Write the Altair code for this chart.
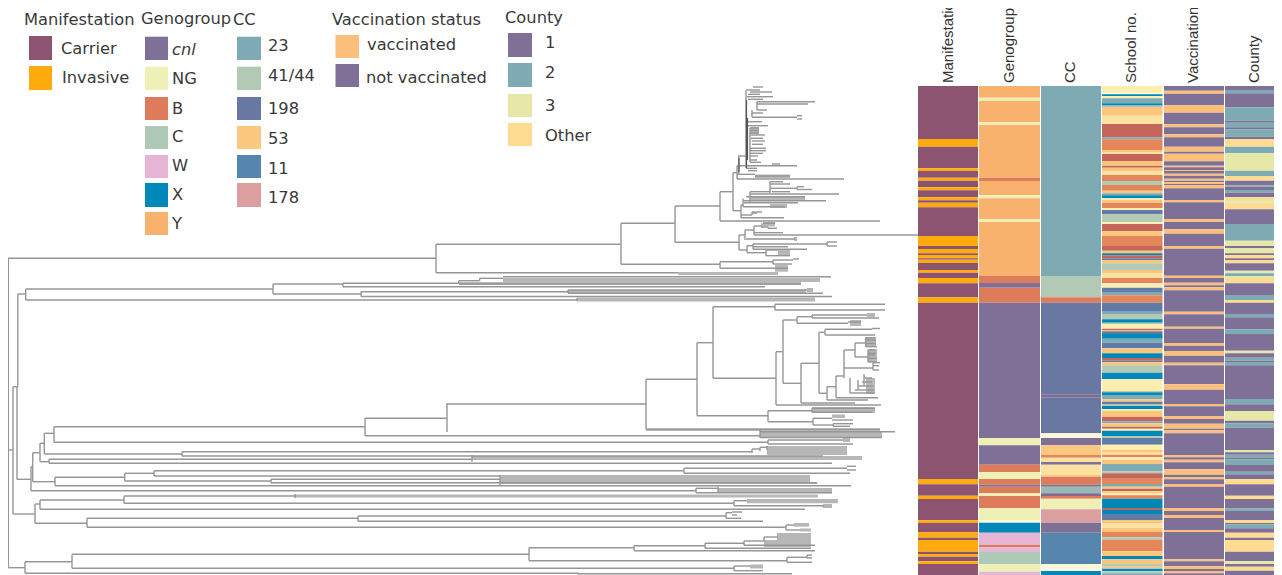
import altair as alt
import pandas as pd

# ---------- palette ----------
PAL = {"carrier": "#8c5470", "invasive": "#ffab0d", "cnl": "#7f7097", "NG": "#eef0b5", "B": "#dd7b5a",
       "C": "#aec9b5", "W": "#e6b5d6", "X": "#0089b8", "Y": "#f9b26e", "23": "#7eaab3", "41": "#b2cab5",
       "198": "#6878a3", "53": "#fcc77f", "11": "#5686ae", "178": "#dc9f9f", "v": "#fbbf7b", "n": "#7f7097",
       "c1": "#7f7097", "c2": "#7eaab3", "c3": "#e6e8a8", "cO": "#fddc92",
       "a": "#fdeeb0", "w": "#fdf8dc", "b": "#0089b8", "t": "#7eaab3", "o": "#fbc67c", "y": "#fce2a0",
       "r": "#c4675a", "e": "#e5855a", "s": "#5f7ba6", "g": "#b2cab5", "m": "#83688f", "p": "#9ab8b4"}

# ---------- heatmap columns ----------
COLUMNS = ["Manifestation", "Genogroup", "CC", "School no.", "Vaccination", "County"]
COL_LEFT = [918, 979, 1041, 1102, 1164, 1225]
COL_RIGHT = [978, 1040, 1101, 1162.5, 1224, 1274]
LABEL_X = [948, 1009, 1070, 1131, 1193, 1254]
HEAT_TOP = 86

manifestation = [(139, "carrier"), (146.7, "invasive"), (168.3, "carrier"), (171, "invasive"), (177.7, "carrier"),
    (180.7, "invasive"), (187.3, "carrier"), (190.3, "invasive"), (197.3, "carrier"), (200.3, "invasive"),
    (202.7, "carrier"), (207.3, "invasive"), (236, "carrier"), (246, "invasive"), (249, "carrier"),
    (253.3, "invasive"), (255, "carrier"), (258.3, "invasive"), (259.7, "carrier"), (263, "invasive"),
    (270, "carrier"), (272.7, "invasive"), (278, "carrier"), (283.3, "invasive"), (297.3, "carrier"),
    (302.7, "invasive"), (479, "carrier"), (484.3, "invasive"), (495.7, "carrier"), (499, "invasive"),
    (520.3, "carrier"), (523, "invasive"), (532.3, "carrier"), (537.7, "invasive"), (540, "carrier"),
    (551.7, "invasive"), (554, "carrier"), (556.7, "invasive"), (561.3, "carrier"), (564, "invasive"),
    (575, "carrier")]

genogroup = [(97.7, "Y"), (100.7, "NG"), (122.3, "Y"), (125, "NG"), (177.7, "Y"), (181, "B"), (195.3, "Y"),
    (198.3, "NG"), (219.3, "Y"), (222, "NG"), (276, "Y"), (283, "B"), (287.7, "cnl"), (302.7, "B"), (438, "cnl"),
    (445.3, "NG"), (464.7, "cnl"), (472, "B"), (479, "NG"), (484.7, "B"), (486.7, "cnl"), (493.3, "B"),
    (496, "NG"), (508, "B"), (520.3, "NG"), (522.7, "w"), (532.7, "X"), (544.7, "W"), (547.3, "B"), (552, "W"),
    (564, "C"), (571.7, "NG"), (575, "W")]

cc = [(276, "23"), (297.3, "41"), (302.7, "B"), (394.3, "198"), (397.3, "m"), (433.3, "198"), (438, "w"),
    (445.3, "cnl"), (455, "53"), (457.7, "e"), (462, "y"), (464.7, "cnl"), (475, "y"), (476.7, "53"), (484.7, "B"),
    (486.7, "cnl"), (493.3, "p"), (496, "m"), (498.7, "B"), (509.3, "NG"), (522.7, "178"), (532.7, "cnl"),
    (564, "11"), (571, "w"), (575, "X")]

school = [(92.7, "a"), (94.3, "w"), (96, "b"), (98.3, "a"), (103.3, "t"), (105.3, "b"), (106.7, "t"), (115.7, "o"),
    (124, "y"), (137.3, "r"), (139.3, "t"), (150, "e"), (152, "o"), (154, "y"), (161, "r"), (165.7, "o"),
    (167.7, "r"), (171, "o"), (175, "y"), (181, "e"), (185, "g"), (190.7, "e"), (193.3, "o"), (195.3, "t"),
    (198.3, "b"), (200, "a"), (202.7, "o"), (208.3, "e"), (210, "a"), (214.3, "s"), (222.3, "g"), (224, "a"),
    (231.3, "r"), (236, "o"), (246, "e"), (250.7, "r"), (253.3, "o"), (255.3, "b"), (258.3, "r"), (260, "s"),
    (263.3, "o"), (270, "g"), (273.3, "o"), (278, "y"), (283.3, "e"), (287.7, "a"), (292.7, "s"), (295.3, "t"),
    (302.7, "e"), (311.7, "s"), (314, "t"), (319.3, "g"), (322.7, "b"), (324.3, "g"), (328.7, "a"), (330, "r"),
    (331.3, "o"), (334, "s"), (338.7, "b"), (342.7, "t"), (348.3, "s"), (353.3, "o"), (358, "b"), (360.7, "r"),
    (362.3, "s"), (365.3, "o"), (372.7, "g"), (379.3, "b"), (391, "a"), (392.3, "g"), (395, "b"), (399.3, "t"),
    (401.7, "o"), (404, "s"), (406, "g"), (409.3, "b"), (410.7, "a"), (416.7, "o"), (421.3, "r"), (423.3, "t"),
    (426.7, "o"), (428.7, "r"), (430.7, "a"), (436, "b"), (438, "g"), (444.7, "s"), (450, "a"), (452.7, "o"),
    (454.7, "y"), (457.3, "e"), (460, "a"), (464, "o"), (471.3, "t"), (473.3, "g"), (478.7, "r"), (484, "e"),
    (486.7, "t"), (488.7, "o"), (491.3, "r"), (493.3, "o"), (495.3, "a"), (498.7, "e"), (508, "b"), (510, "r"),
    (514, "b"), (520, "s"), (523.3, "o"), (528, "y"), (532, "o"), (537.3, "e"), (540, "g"), (551.3, "e"),
    (556, "o"), (559.3, "b"), (564, "o"), (566.7, "g"), (568.7, "o"), (571.3, "b"), (573.3, "g"), (575, "t")]

vaccination = [(90.7, "n"), (93.7, "v"), (105.3, "n"), (112.7, "v"), (124.3, "n"), (127.3, "v"), (134.3, "n"),
    (137.3, "v"), (146.7, "n"), (151.7, "v"), (153.7, "n"), (161.3, "v"), (165.7, "n"), (167.3, "v"), (170, "n"),
    (171, "v"), (173.7, "n"), (175.7, "v"), (178.7, "n"), (180.7, "v"), (182.3, "n"), (184, "v"), (185, "n"),
    (188.3, "v"), (200, "n"), (202.3, "v"), (219.3, "n"), (222, "v"), (229.3, "n"), (233.7, "v"), (246, "n"),
    (248.7, "v"), (275.7, "n"), (278, "v"), (282.7, "n"), (285.3, "v"), (287.3, "n"), (290.3, "v"), (311.7, "n"),
    (314.3, "v"), (326.7, "n"), (328.7, "v"), (343, "n"), (345.7, "v"), (351, "n"), (355.7, "v"), (362.7, "n"),
    (365.3, "v"), (384.3, "n"), (389.7, "v"), (404, "n"), (406.3, "v"), (416, "n"), (419, "v"), (423.7, "n"),
    (428.7, "v"), (430.3, "n"), (433.3, "v"), (455, "n"), (457.3, "v"), (459.7, "n"), (462.3, "v"), (469.3, "n"),
    (474.7, "v"), (477, "n"), (479.3, "v"), (484, "n"), (486.7, "v"), (508, "n"), (511, "v"), (515, "n"),
    (518, "v"), (530, "n"), (532, "v"), (559.3, "n"), (561.3, "v"), (566.3, "n"), (569, "v"), (571, "n"),
    (573.3, "v"), (575, "n")]

county = [(90, "c1"), (93.3, "c2"), (107.3, "c1"), (120.7, "c2"), (122.7, "c1"), (127.3, "c2"), (129.3, "c1"),
    (136.7, "c2"), (139.3, "c1"), (146.7, "cO"), (153.3, "c2"), (170.7, "c3"), (176, "c2"), (180.7, "cO"),
    (185.3, "c1"), (186.7, "c2"), (190, "c1"), (192.7, "c2"), (197.3, "c1"), (200, "cO"), (202.7, "c3"),
    (209.3, "cO"), (224, "c1"), (240.7, "c2"), (246, "c3"), (248.3, "c1"), (253.3, "c3"), (255, "c1"),
    (258.3, "cO"), (260, "c1"), (263.3, "cO"), (270.7, "c1"), (273.3, "c3"), (276, "c2"), (278, "c3"),
    (283.3, "cO"), (295, "c1"), (300, "c2"), (302.7, "cO"), (314, "c1"), (317.3, "c2"), (329.3, "c1"),
    (334, "c2"), (350.7, "c1"), (353.3, "c3"), (357.7, "c1"), (360.7, "c2"), (362, "c1"), (365.3, "c2"),
    (399, "c1"), (404.3, "c2"), (411, "c1"), (420.7, "c3"), (423.3, "c1"), (427.7, "c2"), (450, "c1"),
    (452.3, "c3"), (454.7, "c1"), (457.7, "c2"), (459.3, "c1"), (465, "c2"), (471.7, "c1"), (474.3, "c2"),
    (479, "c1"), (484.3, "cO"), (495.7, "c1"), (499, "cO"), (508.3, "c1"), (510.7, "c2"), (520, "c1"),
    (523, "cO"), (524.3, "c1"), (528.3, "c2"), (532.7, "c1"), (537.7, "cO"), (540, "c1"), (551.7, "cO"),
    (561.3, "c1"), (564, "c3"), (566.7, "c1"), (570.7, "cO"), (575, "c1")]

COLUMN_RUNS = [manifestation, genogroup, cc, school, vaccination, county]

# ---------- tree: (x0, x1, y) horizontal branches ----------
h_branches = [
    (8, 436, 258.3), (436, 621, 244.3), (621, 675, 223.3), (675, 720, 206), (720, 880, 221), (720, 733, 191.7),
    (733, 737, 172.7), (737, 797, 165.7), (738, 746, 156), (737, 755, 174.3), (737, 844, 179), (755, 790, 176),
    (753, 763, 87), (746, 760, 90), (750, 772, 92), (748, 760, 94.3), (747, 773, 96.7), (748, 763, 99.3),
    (757, 815, 101.7), (757, 808, 104), (757, 767, 110), (752, 763, 113), (752, 797, 117.3), (797, 802, 115.7),
    (797, 802, 119), (747, 762, 121.7), (747, 768, 125.7), (750, 759, 128), (750, 759, 130.5), (750, 759, 133),
    (750, 765, 135), (751, 763, 138.3), (752, 765, 141), (752, 763, 144.3), (750, 766, 148.3), (750, 766, 150.7),
    (750, 763, 153.3), (750, 758, 156), (750, 757, 160), (750, 761, 162.3), (772, 780, 164), (746, 757, 168.3),
    (748, 757, 170.7),
    (733, 741, 210.7), (741, 743, 205), (743, 785, 206.7), (743, 826, 200.7), (744, 798, 202.7), (746, 805, 196.7),
    (750, 839, 194), (750, 770, 191.7), (770, 797, 188.3), (797, 804, 186.7), (797, 812, 189.5), (772, 790, 191.7),
    (770, 790, 184), (770, 783, 181.7), (741, 752, 215), (752, 757, 213), (752, 762, 212), (741, 784, 217.7),
    (675, 739, 242.3), (739, 745, 235), (745, 754, 230), (754, 762, 226), (763, 775, 223.3), (762, 768, 227),
    (768, 777, 228.3), (754, 783, 232.7), (754, 918, 235), (746, 794, 239), (794, 797, 238), (794, 797, 240),
    (739, 747, 250), (747, 753, 245.7), (753, 827, 244), (827, 837, 242), (827, 837, 246), (753, 788, 246.7),
    (753, 807, 249.3), (747, 766, 252.7), (766, 778, 250), (766, 790, 255.7),
    (621, 720, 264.3), (720, 773, 261.7), (773, 793, 260), (793, 799, 259), (773, 792, 264), (720, 788, 268.3),
    (436, 678, 272.7), (503, 831, 276.7), (479.6, 503, 278.3), (458.7, 479.6, 280.7), (343, 458.7, 283.3),
    (459, 801, 284), (343, 765, 286.7), (25.7, 273, 289), (273, 343, 284), (273, 361, 294), (361, 568, 291.7),
    (568, 807, 290), (807, 813, 289), (807, 813, 291), (568, 823, 293.3), (361, 832, 296.5), (25.7, 577, 300),
    (17.8, 25.7, 294), (13, 17.8, 386.7), (8.3, 13, 450),
    (16.7, 31, 479.3), (13, 35, 514),
    (447, 646, 404), (646, 697, 379.3), (697, 713, 342.7), (713, 775, 306.7), (775, 885, 304.3), (775, 885, 310),
    (713, 776, 378.3), (776, 783, 351.7), (783, 797, 320), (797, 812, 316.7), (812, 867, 315), (867, 875, 314),
    (867, 875, 316), (812, 879, 318), (797, 848, 323.3), (848, 861, 322), (783, 801, 383.3), (801, 819, 363.3),
    (819, 825, 332.3), (825, 872, 329.3), (872, 880, 328.5), (825, 875, 335), (819, 827, 393.3), (827, 836, 386.7),
    (836, 844, 376), (844, 855, 350), (855, 866, 343), (866, 875, 337.7), (866, 876, 340), (866, 876, 343.5),
    (866, 877, 346.7), (855, 868, 357), (868, 875, 350), (868, 876, 353.3), (868, 875, 355), (868, 877, 358.3),
    (868, 877, 362), (844, 873, 368), (873, 880, 362.7), (873, 879, 365.7), (873, 879, 370), (836, 878, 397.7),
    (850, 874, 393), (855, 874, 390), (858, 873, 386), (862, 872, 382), (864, 872, 378), (827, 868, 400),
    (801, 855, 403), (776, 881, 405), (697, 768, 415.7), (768, 812, 410.7), (812, 875, 408.3), (812, 872, 412.3),
    (768, 813, 421.7), (813, 832, 418.3), (832, 853, 420), (813, 833, 425), (833, 853, 423.7), (833, 850, 426.3),
    (646, 880, 429.3), (760, 895, 431.7), (365, 760, 435.7), (760, 882, 437.5),
    (768, 843, 440), (843, 850, 439), (843, 850, 441), (768, 853, 444), (54, 768, 442.3), (54, 365, 426.7),
    (365, 447, 418.3), (44.3, 54, 433.3), (40, 44.3, 443.3), (32.7, 40, 452.7), (31, 32.7, 466.7),
    (44.3, 182, 454), (182, 752, 451.7), (752, 760, 449), (760, 767, 447.3), (182, 823, 456), (40, 49, 461.7),
    (49, 472, 459.3), (49, 832, 463.3), (32.7, 55, 481.7), (55, 124.7, 477.3), (124.7, 154, 473.3),
    (154, 684, 470.7), (684, 847, 468.3), (847, 856, 466.3), (847, 856, 470), (684, 850, 473.3), (154, 500, 476),
    (124.7, 271, 481), (271, 500, 479.3), (271, 817, 482.7), (55, 851, 485.7), (31, 696, 490.7),
    (696, 718, 488.3), (696, 832, 492.7), (124, 295, 496), (40, 124, 500), (35, 40, 504), (124, 734, 503.3),
    (734, 747, 500.7), (734, 823, 505.7), (823, 832, 505), (823, 832, 507), (40, 805, 509.3), (35, 87, 523.3),
    (87, 358, 518.3), (358, 726, 516), (726, 732, 512.7), (732, 742, 512), (732, 737, 515), (726, 741, 518.3),
    (358, 763, 521.3), (87, 786, 527.3), (786, 794, 525), (786, 800, 530),
    (8.3, 25, 567.7), (25, 72, 561.7), (72, 529, 554.3), (529, 634, 547.7), (634, 705, 545.7), (705, 744, 543.3),
    (744, 764, 541), (764, 778, 537), (744, 815, 545.3), (705, 811, 548.3), (634, 815, 550.7), (529, 787, 560.7),
    (787, 807, 557.3), (807, 812, 555), (807, 812, 558), (787, 812, 562.3), (72, 734, 568.3), (734, 750, 566),
    (734, 763, 570.7), (25, 578, 573.3), (578, 792, 573.7),
]

# (x, y0, y1) vertical connectors
v_branches = [
    (8.3, 258.3, 567.7), (436, 244.3, 272.7), (621, 223.3, 264.3), (675, 206, 242.3), (720, 191.7, 221),
    (733, 172.7, 210.7), (737, 165.7, 179), (738.7, 156, 174.3), (746, 90, 168.3), (750, 128, 162),
    (757, 101.7, 110), (752, 110, 117.3), (741, 205, 217.7), (743, 198.3, 206.7), (750, 191.7, 201.7),
    (770, 181.7, 193), (797, 186.7, 189.5), (752, 212, 215), (739, 235, 250), (745, 230, 240), (754, 226, 235),
    (762, 223.3, 228), (768, 227, 228.3), (794, 238, 240), (747, 245.7, 252.7), (753, 244, 249.3), (827, 242, 246),
    (766, 250, 255.7), (720, 261.7, 268.3), (773, 260, 264), (343, 283.3, 286.7), (458.7, 280.7, 284), (479.6, 278.3, 280.7),
    (273, 284, 294), (25.7, 289, 300), (361, 291.7, 296.5), (568, 290, 293.3), (577, 298, 301),
    (17.8, 294, 386.7), (17, 386.7, 479.3), (13, 386.7, 514), (31, 466.7, 490.7), (32.7, 452.7, 481.7), (40, 443.3, 461.7),
    (44.3, 433.3, 454), (54, 426.7, 442.3), (365, 418.3, 435.7), (447, 403, 432), (646, 379.3, 429.3), (697, 342.7, 415.7),
    (713, 306.7, 378.3), (775, 304.3, 310), (776, 351.7, 405), (783, 320, 383.3), (797, 316.7, 323.3), (812, 315, 318),
    (801, 363.3, 403), (819, 332.3, 393.3), (825, 329.3, 335), (827, 386.7, 400), (836, 376, 397.7), (844, 350, 378),
    (855, 343, 357), (866, 337.7, 346.7), (868, 350, 362), (873, 362.7, 370), (850, 378, 393), (858, 380, 390), (864, 374, 386),
    (768, 410.7, 421.7), (812, 408.3, 412.3), (813, 418.3, 425), (833, 423.7, 426.3), (760, 430, 438), (768, 440, 444),
    (752, 449, 453), (760, 447.3, 451), (767, 446, 450), (182, 451.7, 456), (49, 459.3, 463.3), (472, 455, 461.7),
    (55, 477.3, 485.7), (124.7, 473.3, 481), (154, 470.7, 476), (684, 468.3, 473.3), (500, 475, 485), (271, 479.3, 482.7),
    (696, 488.3, 492.7), (718, 486.5, 492), (35, 504, 523.3), (40, 500, 509.3), (124, 496, 503.3), (295, 494, 498),
    (734, 500.7, 505.7), (823, 505, 507), (87, 518.3, 527.3), (358, 516, 521.3), (726, 512.7, 518.3), (786, 525, 530),
    (25, 561.7, 573.3), (72, 554.3, 568.3), (529, 547.7, 560.7), (634, 545.7, 550.7), (705, 543.3, 548.3), (744, 541, 545.3),
    (764, 537, 541), (787, 557.3, 562.3), (807, 555, 558), (734, 566, 570.7), (578, 572.5, 574.5),
]

# (x, y0, y1) very short internal branches stacked along the top clade's stem, seen as a dark line
dark_stems = [(746.5, 100, 168), (747.5, 118, 160), (739, 158, 172)]

# (x0, x1, y0, y1) tightly packed leaves that merge into grey
dense_blocks = [
    (751, 759, 127, 134), (678, 778, 272, 275), (503, 820, 278, 282), (459, 801, 282, 285), (568, 806, 290, 293),
    (577, 815, 297.5, 301.5), (755, 790, 174.5, 178), (770, 787, 204, 208), (750, 805, 196.7, 200.7),
    (763, 775, 222, 226.5), (778, 790, 249, 256), (775, 788, 265, 271.7), (850, 861, 320, 326), (832, 845, 414.5, 418),
    (865, 876, 337, 347), (868, 877, 349, 362), (866, 875, 378, 394), (812, 875, 407, 413),
    (646, 880, 428.5, 431), (760, 882, 431, 437.5), (767, 847, 446, 455), (472, 862, 456, 460), (500, 810, 475, 482),
    (500, 817, 482, 484), (718, 832, 488, 492.7), (295, 818, 494.5, 497.5), (747, 838, 499, 503.3),
    (794, 809, 523, 526.7), (800, 811, 528.5, 531.5), (777, 811, 533, 540), (764, 811, 540, 547),
    (750, 763, 564.5, 568.5),
]

# ---------- legends ----------
LEGEND_TITLES = ["Manifestation", "Genogroup", "CC", "Vaccination status", "County"]
TITLE_X = [24, 141, 233, 332, 505]
TITLE_Y = [20, 19, 20, 20, 18]
legend_entries = [
    # label, colour key, swatch x0, x1, y0, y1, label x, label y
    ("Carrier", "carrier", 29, 52, 36, 60, 61, 49), ("Invasive", "invasive", 29, 52, 66, 90, 62, 78),
    ("cnl", "cnl", 145, 168, 36.7, 60, 172, 50), ("NG", "NG", 145, 168, 66.7, 90, 172, 79),
    ("B", "B", 145, 168, 97, 120, 172, 109), ("C", "C", 145, 168, 126, 149, 172, 137),
    ("W", "W", 145, 168, 155, 178, 172, 166), ("X", "X", 145, 168, 183, 207, 172, 195),
    ("Y", "Y", 145, 168, 212, 235, 172, 224),
    ("23", "23", 237, 261, 36.7, 60, 268, 46), ("41/44", "41", 237, 261, 66.7, 90, 268, 76),
    ("198", "198", 237, 261, 97, 120, 268, 109), ("53", "53", 237, 261, 126, 149, 268, 139),
    ("11", "11", 237, 261, 155, 178, 268, 169), ("178", "178", 237, 261, 183, 207, 268, 198),
    ("vaccinated", "v", 335.5, 359, 35, 58, 367, 44.5), ("not vaccinated", "n", 335.5, 359, 64, 87, 366, 78),
    ("1", "c1", 508, 532, 33, 57, 545, 43), ("2", "c2", 508, 532, 63, 87, 545, 73),
    ("3", "c3", 508, 532, 94, 117, 545, 106), ("Other", "cO", 508, 532, 123, 146, 545, 136),
]

# ---------- tables ----------
cells = []
for left, right, runs in zip(COL_LEFT, COL_RIGHT, COLUMN_RUNS):
    start = HEAT_TOP
    for end, key in runs:
        cells.append({"x0": left, "x1": right, "y0": start, "y1": end, "c": PAL[key]})
        start = end
cells = pd.DataFrame(cells)

segments = pd.DataFrame(
    [{"x0": a, "x1": b, "y0": y, "y1": y} for a, b, y in h_branches]
    + [{"x0": x, "x1": x, "y0": a, "y1": b} for x, a, b in v_branches]
)
stems = pd.DataFrame([{"x0": x, "x1": x, "y0": a, "y1": b} for x, a, b in dark_stems])
blocks = pd.DataFrame([{"x0": a, "x1": b, "y0": c, "y1": d} for a, b, c, d in dense_blocks])
legend = pd.DataFrame([
    {"label": l, "c": PAL[k], "x0": a, "x1": b, "y0": c, "y1": d, "lx": e, "ly": f,
     "style": "italic" if l == "cnl" else "normal"}
    for l, k, a, b, c, d, e, f in legend_entries
])
titles = pd.DataFrame({"t": LEGEND_TITLES, "x": TITLE_X, "y": TITLE_Y})
col_labels = pd.DataFrame({"t": COLUMNS, "x": LABEL_X, "y": [83] * 6})

# ---------- encodings ----------
X = alt.Scale(domain=[8, 1274], nice=False, zero=False)
Y = alt.Scale(domain=[575, 8], nice=False, zero=False)
def xq(f): return alt.X(f + ":Q", scale=X, axis=None)
def yq(f): return alt.Y(f + ":Q", scale=Y, axis=None)
FONT = "DejaVu Sans"
TEXT = "#3a3a3a"
TREE = "#969696"

heat = alt.Chart(cells).mark_rect(stroke=None).encode(
    x=xq("x0"), x2="x1:Q", y=yq("y0"), y2="y1:Q", color=alt.Color("c:N", scale=None))
block = alt.Chart(blocks).mark_rect(color="#b7b7b7").encode(x=xq("x0"), x2="x1:Q", y=yq("y0"), y2="y1:Q")
tree = alt.Chart(segments).mark_rule(color=TREE, strokeWidth=1.4).encode(
    x=xq("x0"), x2="x1:Q", y=yq("y0"), y2="y1:Q")
stem = alt.Chart(stems).mark_rule(color="#555555", strokeWidth=1.2).encode(
    x=xq("x0"), x2="x1:Q", y=yq("y0"), y2="y1:Q")
swatch = alt.Chart(legend).mark_rect().encode(
    x=xq("x0"), x2="x1:Q", y=yq("y0"), y2="y1:Q", color=alt.Color("c:N", scale=None))
labels = alt.Chart(legend[legend["style"] == "normal"]).mark_text(
    font=FONT, fontSize=16.3, color=TEXT, align="left", baseline="middle").encode(
    x=xq("lx"), y=yq("ly"), text="label:N")
labels_it = alt.Chart(legend[legend["style"] == "italic"]).mark_text(
    font=FONT, fontSize=16.3, fontStyle="italic", color=TEXT, align="left", baseline="middle").encode(
    x=xq("lx"), y=yq("ly"), text="label:N")
title_text = alt.Chart(titles).mark_text(
    font=FONT, fontSize=16.3, color=TEXT, align="left", baseline="middle").encode(
    x=xq("x"), y=yq("y"), text="t:N")
col_text = alt.Chart(col_labels).mark_text(
    font="Liberation Sans", fontSize=15, color="#333333", align="left", baseline="middle", angle=270).encode(
    x=xq("x"), y=yq("y"), text="t:N")

chart = alt.layer(block, tree, stem, heat, swatch, labels, labels_it, title_text, col_text).properties(
    width=1266, height=567, padding=0, autosize=alt.AutoSizeParams(type="none")
).configure_view(stroke=None)

chart.save("out.html", embed_options={"renderer": "svg", "actions": False})
